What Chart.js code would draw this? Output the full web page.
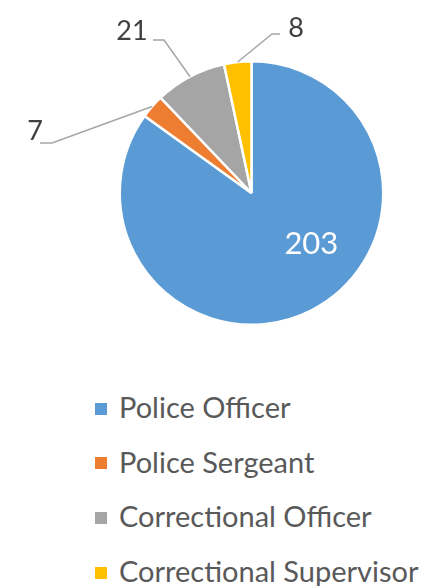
<!DOCTYPE html>
<html>
<head>
<meta charset="utf-8">
<script src="https://cdn.jsdelivr.net/npm/chart.js@4"></script>
<style>
    body { margin: 0; background: #fff; }
    #wrap { position: relative; width: 423px; height: 586px; }
    #caixa { position: absolute; left: 0; top: 0; width: 423px; height: 360px; }
    #legenda {
        position: absolute; left: 95px; top: 380px;
        margin: 0; padding: 0; list-style: none;
        font-family: Lato, sans-serif; font-size: 29px; color: #595959;
    }
    #legenda li { height: 54.7px; line-height: 54.7px; white-space: nowrap; }
    #legenda span {
        display: inline-block; width: 12px; height: 12px;
        margin-right: 12px; vertical-align: middle; position: relative; top: -2px;
    }
</style>
</head>
<body>
<div id="wrap">
    <div id="caixa"><canvas id="graficoPizza"></canvas></div>
    <ul id="legenda"></ul>
</div>
<script>
const cargos = ["Police Officer", "Police Sergeant", "Correctional Officer", "Correctional Supervisor"];
const quantidades = [203, 7, 21, 8];
const cores = ["#5B9BD5", "#ED7D31", "#A5A5A5", "#FFC000"];

// onde cada rótulo fica, relativo ao centro da pizza
const posRotulos = [
    { dentro: true, fracao: 0.424, raio: 0.59 },
    { texto: [-216.5, -53], cotovelo: [-199.5, -50], fim: [-211.5, -50] },
    { texto: [-119.5, -153], cotovelo: [-87.5, -153], fim: [-98.5, -153] },
    { texto: [44.5, -156], cotovelo: [20.5, -159], fim: [28.5, -159] }
];

const rotulosPizza = {
    id: "rotulosPizza",
    afterDatasetsDraw(chart) {
        const ctx = chart.ctx;
        const arcos = chart.getDatasetMeta(0).data;

        arcos.forEach(function(arco, i) {
            const p = arco.getProps(["x", "y", "startAngle", "endAngle", "outerRadius"], true);
            const pos = posRotulos[i];
            const valor = String(chart.data.datasets[0].data[i]);

            ctx.save();
            ctx.textAlign = "center";
            ctx.textBaseline = "alphabetic";

            if (pos.dentro) {
                const ang = p.startAngle + pos.fracao * (p.endAngle - p.startAngle);
                const r = p.outerRadius * pos.raio;
                ctx.fillStyle = "#ffffff";
                ctx.font = "31px Lato";
                ctx.fillText(valor, p.x + r * Math.cos(ang), p.y + r * Math.sin(ang) + 11);
            } else {
                const meio = (p.startAngle + p.endAngle) / 2;
                ctx.strokeStyle = "#A6A6A6";
                ctx.lineWidth = 1.5;
                ctx.beginPath();
                ctx.moveTo(p.x + p.outerRadius * Math.cos(meio), p.y + p.outerRadius * Math.sin(meio));
                ctx.lineTo(p.x + pos.cotovelo[0], p.y + pos.cotovelo[1]);
                ctx.lineTo(p.x + pos.fim[0], p.y + pos.fim[1]);
                ctx.stroke();

                ctx.fillStyle = "#404040";
                ctx.font = "27px Lato";
                ctx.fillText(valor, p.x + pos.texto[0], p.y + pos.texto[1]);
            }
            ctx.restore();
        });
    }
};

const graficoPizza = new Chart(document.getElementById("graficoPizza"), {
    type: "pie",
    data: {
        labels: cargos,
        datasets: [{
            data: quantidades,
            backgroundColor: cores,
            borderColor: "#ffffff",
            borderWidth: 2.5
        }]
    },
    options: {
        responsive: true,
        maintainAspectRatio: false,
        animation: false,
        layout: {
            padding: { top: 60, bottom: 34, left: 118, right: 38 }
        },
        plugins: {
            legend: { display: false },
            tooltip: { enabled: false }
        }
    },
    plugins: [rotulosPizza]
});

const legenda = document.getElementById("legenda");
cargos.forEach(function(cargo, i) {
    const li = document.createElement("li");
    const quadrado = document.createElement("span");
    quadrado.style.background = cores[i];
    li.appendChild(quadrado);
    li.appendChild(document.createTextNode(cargo));
    legenda.appendChild(li);
});
</script>
</body>
</html>
